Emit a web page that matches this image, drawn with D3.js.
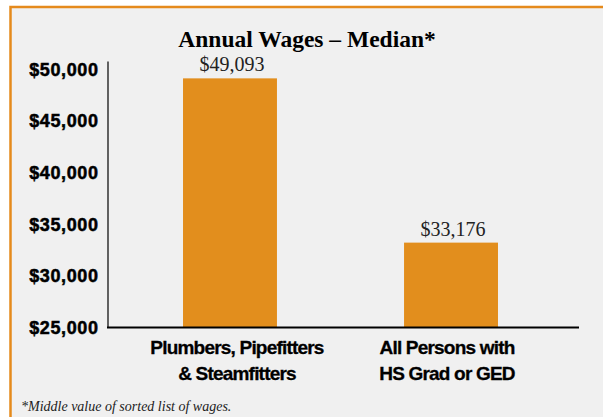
<!DOCTYPE html>
<html><head><meta charset="utf-8">
<script src="https://cdn.jsdelivr.net/npm/d3@7"></script>
<style>
html,body{margin:0;padding:0;background:#fff;}
svg{display:block;}
</style></head>
<body>
<svg id="chart" width="603" height="417"></svg>
<script>
const categories = [["Plumbers, Pipefitters", "& Steamfitters"], ["All Persons with", "HS Grad or GED"]];
const categoryKeys = ["plumbers", "all"];
const values = [49093, 33176];
const valueLabels = ["$49,093", "$33,176"];
const tickValues = [25000, 30000, 35000, 40000, 45000, 50000];
const title = "Annual Wages \u2013 Median*";
const footnote = "*Middle value of sorted list of wages.";

const svg = d3.select("#chart");
const W = 603, H = 417;
const orange = "#e28e1d";

// panel background & frame
svg.append("rect").attr("x", 10).attr("y", 7).attr("width", W - 10).attr("height", H - 7).attr("fill", "#f0f0f0");
svg.append("path").attr("d", `M10.5,${H} L10.5,7 L${W},7`).attr("fill", "none").attr("stroke", "#e58a1c").attr("stroke-width", 2.5);

const x = d3.scaleBand().domain(categoryKeys).range([105, 576]).paddingInner(0.575).paddingOuter(0.353);
const labelX = d3.scalePoint().domain(categoryKeys).range([237, 447]);
const y = d3.scaleLinear().domain([25000, 50775]).range([327, 61]);

// bars
svg.selectAll("rect.bar").data(values).join("rect").attr("class", "bar")
  .attr("x", (d, i) => x(categoryKeys[i]))
  .attr("width", x.bandwidth())
  .attr("y", d => y(d))
  .attr("height", d => y(25000) - y(d))
  .attr("fill", orange);

// value labels
svg.selectAll("text.val").data(values).join("text").attr("class", "val")
  .attr("x", (d, i) => x(categoryKeys[i]) + x.bandwidth() / 2 + 2)
  .attr("y", d => y(d) - 7)
  .attr("text-anchor", "middle")
  .attr("font-family", "'Liberation Serif', 'DejaVu Serif', serif")
  .attr("font-size", 20)
  .attr("fill", "#222")
  .text((d, i) => valueLabels[i]);

// y axis
const yAxis = d3.axisLeft(y).tickValues(tickValues).tickSize(0).tickPadding(9)
  .tickFormat(d => "$" + d3.format(",")(d));
const gy = svg.append("g").attr("transform", "translate(107.5,0)").call(yAxis);
gy.select(".domain").attr("stroke", "#000").attr("stroke-width", 1.2);
gy.selectAll(".tick text")
  .attr("font-family", "'Liberation Sans', Arial, sans-serif")
  .attr("font-weight", "bold").attr("font-size", 18).attr("fill", "#000")
  .attr("stroke", "#000").attr("stroke-width", 0.5)
  .attr("letter-spacing", 0.6)
  .attr("dy", "0.35em");

// x axis line
const xAxis = d3.axisBottom(x).tickSize(0).tickFormat("");
const gx = svg.append("g").attr("transform", "translate(0,327)").call(xAxis);
gx.select(".domain").attr("d", "M107,0.5H579").attr("stroke", "#000").attr("stroke-width", 2);

// category labels
const cat = svg.selectAll("text.cat").data(categories).join("text").attr("class", "cat")
  .attr("text-anchor", "middle")
  .attr("font-family", "'Liberation Sans', Arial, sans-serif")
  .attr("font-weight", "bold").attr("font-size", 19).attr("letter-spacing", -0.8)
  .attr("stroke", "#000").attr("stroke-width", 0.3)
  .attr("fill", "#000");
cat.selectAll("tspan").data((d, i) => d.map(t => ({t, k: categoryKeys[i]}))).join("tspan")
  .attr("x", d => labelX(d.k))
  .attr("y", (d, j) => 354 + j * 26)
  .text(d => d.t);

// title
svg.append("text").attr("x", 307).attr("y", 47).attr("text-anchor", "middle")
  .attr("font-family", "'Liberation Serif', 'DejaVu Serif', serif")
  .attr("font-weight", "bold").attr("font-size", 23.5).attr("fill", "#000")
  .text(title);

// footnote
svg.append("text").attr("x", 21).attr("y", 411)
  .attr("font-family", "'Liberation Serif', 'DejaVu Serif', serif")
  .attr("font-style", "italic").attr("font-size", 14).attr("fill", "#222")
  .text(footnote);
</script>
</body></html>
